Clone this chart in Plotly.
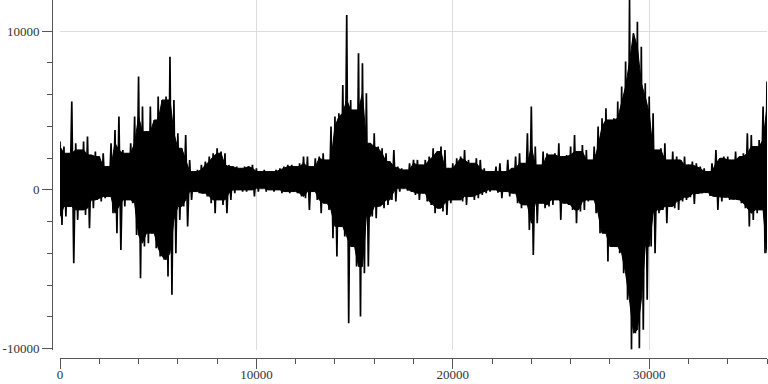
import plotly.graph_objects as go

# sample positions (every 200 samples) with the upper and lower envelope
sample_x = list(range(0, 36001, 200))

upper = [3045,2730,2310,5565,2940,2520,3045,3360,2205,2415,2100,2310,1470,2940,3780,4620,2520,2310,2940,4620,7140,5250,3675,5250,4410,5880,
         5670,5880,8400,5670,3570,2625,3465,1890,1155,1260,1575,1785,2100,2310,2625,2415,2310,1575,1470,1470,1365,1470,1470,1575,1365,1155,
         1260,1155,1155,1260,1365,1470,1575,1575,1470,1680,2100,2100,1470,1995,2100,2310,1890,3990,4620,4830,6615,11025,5670,5040,8610,7980,
         6090,2940,3570,2730,2625,2310,1785,2520,1470,1365,1260,1680,1890,1890,1575,1890,2100,2625,2415,2730,2520,1365,1680,1995,2100,2520,
         1890,1680,1995,1890,1365,1155,1155,1470,1680,1155,1890,1365,2100,2310,1680,3570,5250,2730,1575,2415,2310,2205,2310,2940,2100,2205,
         2730,3465,2415,2835,2520,1890,2730,3990,4515,5145,4410,4515,5565,6510,8085,11970,9870,10605,9030,6720,5880,4830,2520,2625,2940,1890,
         2415,2100,1890,2100,1575,1785,1680,1470,1365,1155,1680,2520,1995,2100,2100,1890,2415,2100,2310,3570,3465,2730,3150,5250,6825]

lower = [-2205,-1680,-1050,-4620,-1890,-1260,-1575,-2415,-1155,-630,-735,-525,-420,-1470,-2730,-3780,-1050,-630,-840,-2835,-5565,-3570,-3360,-2730,-3675,-4200,
         -4410,-5460,-6615,-3990,-1890,-1050,-2310,-630,-105,-210,-210,-420,-840,-1470,-630,-945,-1470,-630,-210,0,-105,-105,0,-420,-105,105,
         -105,0,-105,0,-210,-105,-210,-105,-210,-420,-525,-1260,-105,-630,-1470,-840,-1260,-3045,-4200,-2310,-2940,-8400,-3570,-4830,-7980,-5250,
         -4830,-1680,-1785,-1050,-1155,-945,-630,-735,-105,105,-42,-105,-315,-630,-210,-735,-945,-1470,-1155,-1365,-1575,-840,-630,-630,-735,-945,
         -420,-630,-525,-315,-210,-105,0,-168,-525,-105,-420,-210,-840,-1155,-945,-2520,-4095,-2100,-840,-1155,-1050,-945,-630,-1890,-840,-945,
         -1260,-2100,-1365,-1260,-735,-630,-1470,-2730,-2730,-4515,-3570,-3570,-3990,-5250,-6930,-10080,-9030,-9975,-8820,-6930,-3570,-3990,-1470,-1260,-2100,-1050,
         -1155,-1260,-735,-630,-462,-882,-252,-210,-168,-378,-420,-1260,-735,-462,-630,-588,-630,-840,-1155,-2310,-1890,-1470,-1260,-3990,-4935]

x_ticks = [0, 10000, 20000, 30000]
x_labels = ["0", "10000", "20000", "30000"]
y_ticks = [-10000, 0, 10000]
y_labels = ["-10000", "0", "10000"]

# zig-zag trace through the read peaks / troughs
xs, ys = [], []
for x, hi, lo in zip(sample_x, upper, lower):
    xs += [x, x + 100]
    ys += [hi, lo]

# solid core: the band between neighbouring peaks (lower of the adjacent readings)
n = len(sample_x)
core_hi = [min(upper[max(i - 1, 0):min(i + 2, n)]) for i in range(n)]
core_lo = [max(lower[max(i - 1, 0):min(i + 2, n)]) for i in range(n)]

fig = go.Figure()
fig.add_trace(go.Scatter(x=sample_x, y=core_hi, mode="lines",
                         line=dict(color="black", width=1), hoverinfo="skip"))
fig.add_trace(go.Scatter(x=sample_x, y=core_lo, mode="lines", fill="tonexty",
                         fillcolor="black", line=dict(color="black", width=1),
                         hoverinfo="skip"))
fig.add_trace(go.Scatter(x=xs, y=ys, mode="lines",
                         line=dict(color="black", width=1.7, simplify=False),
                         hoverinfo="skip"))

font = dict(family="Liberation Serif", size=13, color="#333")
fig.update_layout(
    width=768, height=384,
    margin=dict(l=52, r=1, t=0, b=26, autoexpand=False),
    paper_bgcolor="white", plot_bgcolor="white",
    showlegend=False,
    font=font,
    xaxis=dict(domain=[8 / 715, 1], anchor="free", position=0, automargin=False,
               range=[0, 36000], tickmode="array", tickvals=x_ticks, ticktext=x_labels,
               showgrid=True, gridcolor="#dddddd", gridwidth=1, zeroline=False,
               showline=True, linecolor="#555", linewidth=1,
               ticks="outside", ticklen=10, tickcolor="#555", tickwidth=1,
               ticklabelstandoff=-6,
               minor=dict(tickmode="linear", tick0=0, dtick=2000, ticks="outside",
                          ticklen=5, tickcolor="#555", showgrid=False),
               tickfont=font),
    yaxis=dict(domain=[8.5 / 358, 1], anchor="free", position=0, automargin=False,
               range=[-10060, 11970], tickmode="array", tickvals=y_ticks, ticktext=y_labels,
               showgrid=True, gridcolor="#dddddd", gridwidth=1, zeroline=False,
               showline=True, linecolor="#555", linewidth=1,
               ticks="outside", ticklen=10, tickcolor="#555", tickwidth=1,
               minor=dict(tickmode="linear", tick0=0, dtick=2000, ticks="outside",
                          ticklen=5, tickcolor="#555", showgrid=False),
               tickfont=font),
)

fig.write_html("out.html", config={"displayModeBar": False})
